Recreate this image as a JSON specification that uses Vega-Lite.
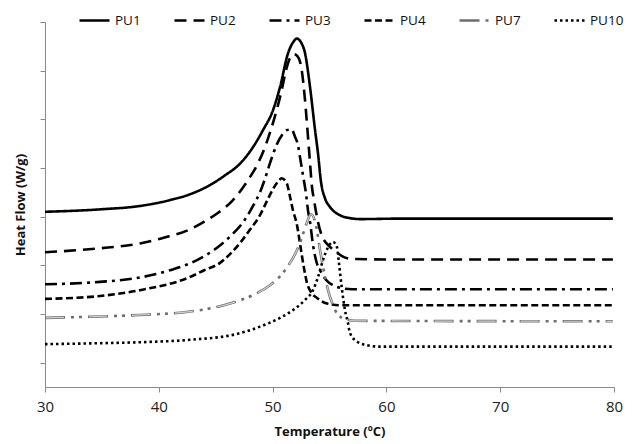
{
  "$schema": "https://vega.github.io/schema/vega-lite/v6.json",
  "width": 569,
  "height": 365,
  "autosize": {"type": "none"},
  "padding": {"left": 45, "top": 22, "right": 28, "bottom": 57},
  "config": {
    "view": {"stroke": null},
    "font": "Open Sans",
    "legend": {
      "orient": "none",
      "legendX": 33,
      "legendY": -18,
      "direction": "horizontal",
      "symbolType": "stroke",
      "symbolSize": 900,
      "symbolStrokeWidth": 2.5,
      "labelFontSize": 13.5,
      "labelOffset": 4,
      "columnPadding": 28,
      "labelColor": "#111111",
      "padding": 0,
      "title": null
    }
  },
  "data": {
    "values": [
      {"s": "PU1", "t": 30.0, "v": 4.10}, {"s": "PU1", "t": 34.83, "v": 4.15}, {"s": "PU1", "t": 38.35, "v": 4.22}, {"s": "PU1", "t": 40.98, "v": 4.34}, {"s": "PU1", "t": 42.74, "v": 4.46}, {"s": "PU1", "t": 44.5, "v": 4.65}, {"s": "PU1", "t": 45.82, "v": 4.85}, {"s": "PU1", "t": 47.14, "v": 5.09}, {"s": "PU1", "t": 48.28, "v": 5.43}, {"s": "PU1", "t": 49.16, "v": 5.78}, {"s": "PU1", "t": 50.04, "v": 6.19}, {"s": "PU1", "t": 50.65, "v": 6.66}, {"s": "PU1", "t": 51.36, "v": 7.36}, {"s": "PU1", "t": 51.79, "v": 7.58}, {"s": "PU1", "t": 52.14, "v": 7.66}, {"s": "PU1", "t": 52.5, "v": 7.58}, {"s": "PU1", "t": 52.85, "v": 7.36}, {"s": "PU1", "t": 53.29, "v": 6.66}, {"s": "PU1", "t": 53.73, "v": 5.78}, {"s": "PU1", "t": 53.99, "v": 5.30}, {"s": "PU1", "t": 54.25, "v": 4.72}, {"s": "PU1", "t": 54.6, "v": 4.38}, {"s": "PU1", "t": 55.04, "v": 4.20}, {"s": "PU1", "t": 55.92, "v": 4.03}, {"s": "PU1", "t": 56.8, "v": 3.97}, {"s": "PU1", "t": 57.68, "v": 3.95}, {"s": "PU1", "t": 61.19, "v": 3.96}, {"s": "PU1", "t": 70.0, "v": 3.96}, {"s": "PU1", "t": 79.9, "v": 3.96},

      {"s": "PU2", "t": 30.0, "v": 3.27}, {"s": "PU2", "t": 34.83, "v": 3.35}, {"s": "PU2", "t": 38.35, "v": 3.45}, {"s": "PU2", "t": 40.5, "v": 3.57}, {"s": "PU2", "t": 42.74, "v": 3.74}, {"s": "PU2", "t": 44.0, "v": 3.90}, {"s": "PU2", "t": 45.09, "v": 4.06}, {"s": "PU2", "t": 46.52, "v": 4.34}, {"s": "PU2", "t": 47.84, "v": 4.75}, {"s": "PU2", "t": 48.72, "v": 5.10}, {"s": "PU2", "t": 49.33, "v": 5.43}, {"s": "PU2", "t": 49.92, "v": 5.84}, {"s": "PU2", "t": 50.36, "v": 6.19}, {"s": "PU2", "t": 50.8, "v": 6.60}, {"s": "PU2", "t": 51.18, "v": 7.01}, {"s": "PU2", "t": 51.53, "v": 7.26}, {"s": "PU2", "t": 51.88, "v": 7.34}, {"s": "PU2", "t": 52.18, "v": 7.30}, {"s": "PU2", "t": 52.56, "v": 7.01}, {"s": "PU2", "t": 52.85, "v": 6.39}, {"s": "PU2", "t": 53.11, "v": 5.64}, {"s": "PU2", "t": 53.29, "v": 5.10}, {"s": "PU2", "t": 53.46, "v": 4.61}, {"s": "PU2", "t": 53.64, "v": 4.34}, {"s": "PU2", "t": 53.99, "v": 3.89}, {"s": "PU2", "t": 54.34, "v": 3.60}, {"s": "PU2", "t": 54.78, "v": 3.44}, {"s": "PU2", "t": 55.4, "v": 3.31}, {"s": "PU2", "t": 56.1, "v": 3.19}, {"s": "PU2", "t": 56.98, "v": 3.13}, {"s": "PU2", "t": 61.19, "v": 3.12}, {"s": "PU2", "t": 79.9, "v": 3.12},

      {"s": "PU3", "t": 30.0, "v": 2.61}, {"s": "PU3", "t": 34.83, "v": 2.66}, {"s": "PU3", "t": 38.35, "v": 2.75}, {"s": "PU3", "t": 41.0, "v": 2.90}, {"s": "PU3", "t": 42.74, "v": 3.04}, {"s": "PU3", "t": 44.0, "v": 3.19}, {"s": "PU3", "t": 45.0, "v": 3.34}, {"s": "PU3", "t": 46.26, "v": 3.59}, {"s": "PU3", "t": 47.57, "v": 3.94}, {"s": "PU3", "t": 48.28, "v": 4.22}, {"s": "PU3", "t": 48.89, "v": 4.50}, {"s": "PU3", "t": 49.33, "v": 4.78}, {"s": "PU3", "t": 49.77, "v": 5.10}, {"s": "PU3", "t": 50.36, "v": 5.48}, {"s": "PU3", "t": 50.83, "v": 5.68}, {"s": "PU3", "t": 51.27, "v": 5.78}, {"s": "PU3", "t": 51.68, "v": 5.79}, {"s": "PU3", "t": 51.97, "v": 5.64}, {"s": "PU3", "t": 52.23, "v": 5.47}, {"s": "PU3", "t": 52.41, "v": 5.22}, {"s": "PU3", "t": 52.67, "v": 4.85}, {"s": "PU3", "t": 52.93, "v": 4.48}, {"s": "PU3", "t": 53.11, "v": 4.13}, {"s": "PU3", "t": 53.29, "v": 3.89}, {"s": "PU3", "t": 53.55, "v": 3.42}, {"s": "PU3", "t": 53.81, "v": 3.11}, {"s": "PU3", "t": 54.31, "v": 2.84}, {"s": "PU3", "t": 54.78, "v": 2.68}, {"s": "PU3", "t": 55.31, "v": 2.59}, {"s": "PU3", "t": 56.1, "v": 2.53}, {"s": "PU3", "t": 56.98, "v": 2.51}, {"s": "PU3", "t": 79.9, "v": 2.51},

      {"s": "PU4", "t": 30.0, "v": 2.31}, {"s": "PU4", "t": 34.83, "v": 2.37}, {"s": "PU4", "t": 38.35, "v": 2.49}, {"s": "PU4", "t": 42.74, "v": 2.76}, {"s": "PU4", "t": 44.0, "v": 2.90}, {"s": "PU4", "t": 45.38, "v": 3.05}, {"s": "PU4", "t": 46.3, "v": 3.24}, {"s": "PU4", "t": 47.14, "v": 3.46}, {"s": "PU4", "t": 48.0, "v": 3.73}, {"s": "PU4", "t": 48.89, "v": 4.03}, {"s": "PU4", "t": 49.5, "v": 4.32}, {"s": "PU4", "t": 50.04, "v": 4.57}, {"s": "PU4", "t": 50.47, "v": 4.72}, {"s": "PU4", "t": 50.8, "v": 4.79}, {"s": "PU4", "t": 51.24, "v": 4.69}, {"s": "PU4", "t": 51.53, "v": 4.41}, {"s": "PU4", "t": 51.79, "v": 4.13}, {"s": "PU4", "t": 52.14, "v": 3.83}, {"s": "PU4", "t": 52.5, "v": 3.31}, {"s": "PU4", "t": 52.76, "v": 2.94}, {"s": "PU4", "t": 53.02, "v": 2.64}, {"s": "PU4", "t": 53.37, "v": 2.45}, {"s": "PU4", "t": 53.9, "v": 2.33}, {"s": "PU4", "t": 54.69, "v": 2.22}, {"s": "PU4", "t": 55.92, "v": 2.18}, {"s": "PU4", "t": 79.9, "v": 2.18},

      {"s": "PU7", "t": 30.0, "v": 1.92}, {"s": "PU7", "t": 34.83, "v": 1.95}, {"s": "PU7", "t": 38.35, "v": 1.98}, {"s": "PU7", "t": 42.74, "v": 2.05}, {"s": "PU7", "t": 45.38, "v": 2.16}, {"s": "PU7", "t": 46.87, "v": 2.26}, {"s": "PU7", "t": 48.28, "v": 2.39}, {"s": "PU7", "t": 49.77, "v": 2.59}, {"s": "PU7", "t": 51.09, "v": 2.90}, {"s": "PU7", "t": 52.41, "v": 3.46}, {"s": "PU7", "t": 53.0, "v": 3.87}, {"s": "PU7", "t": 53.37, "v": 4.05}, {"s": "PU7", "t": 53.81, "v": 3.83}, {"s": "PU7", "t": 54.17, "v": 3.31}, {"s": "PU7", "t": 54.52, "v": 2.86}, {"s": "PU7", "t": 54.87, "v": 2.49}, {"s": "PU7", "t": 55.31, "v": 2.18}, {"s": "PU7", "t": 55.75, "v": 1.98}, {"s": "PU7", "t": 56.36, "v": 1.90}, {"s": "PU7", "t": 57.24, "v": 1.86}, {"s": "PU7", "t": 79.9, "v": 1.85},

      {"s": "PU10", "t": 30.0, "v": 1.38}, {"s": "PU10", "t": 34.83, "v": 1.40}, {"s": "PU10", "t": 38.35, "v": 1.42}, {"s": "PU10", "t": 42.74, "v": 1.47}, {"s": "PU10", "t": 46.87, "v": 1.59}, {"s": "PU10", "t": 48.89, "v": 1.74}, {"s": "PU10", "t": 50.65, "v": 1.92}, {"s": "PU10", "t": 51.79, "v": 2.08}, {"s": "PU10", "t": 52.85, "v": 2.29}, {"s": "PU10", "t": 53.55, "v": 2.49}, {"s": "PU10", "t": 53.99, "v": 2.76}, {"s": "PU10", "t": 54.43, "v": 3.11}, {"s": "PU10", "t": 54.87, "v": 3.37}, {"s": "PU10", "t": 55.31, "v": 3.48}, {"s": "PU10", "t": 55.66, "v": 3.37}, {"s": "PU10", "t": 55.83, "v": 3.05}, {"s": "PU10", "t": 56.07, "v": 2.55}, {"s": "PU10", "t": 56.36, "v": 2.08}, {"s": "PU10", "t": 56.63, "v": 1.81}, {"s": "PU10", "t": 56.8, "v": 1.61}, {"s": "PU10", "t": 57.5, "v": 1.42}, {"s": "PU10", "t": 58.27, "v": 1.36}, {"s": "PU10", "t": 59.44, "v": 1.33}, {"s": "PU10", "t": 79.9, "v": 1.33}
    ]
  },
  "encoding": {
    "x": {
      "field": "t",
      "type": "quantitative",
      "scale": {"domain": [30, 80], "nice": false, "zero": false},
      "axis": {
        "title": "Temperature (ºC)",
        "values": [30, 40, 50, 60, 70, 80],
        "grid": false,
        "domainColor": "#8a8a8a",
        "tickColor": "#8a8a8a",
        "tickSize": 5,
        "labelFontSize": 15,
        "labelColor": "#222222",
        "labelPadding": 7,
        "labelFlush": false,
        "titleFontSize": 13,
        "titleFontWeight": "bold",
        "titleColor": "#111111",
        "titlePadding": 11
      }
    },
    "y": {
      "field": "v",
      "type": "quantitative",
      "scale": {"domain": [0.5, 8], "nice": false, "zero": false},
      "axis": {
        "title": "Heat Flow (W/g)",
        "values": [1, 2, 3, 4, 5, 6, 7, 8],
        "labels": false,
        "grid": false,
        "domainColor": "#8a8a8a",
        "tickColor": "#8a8a8a",
        "tickSize": 5,
        "titleFontSize": 13,
        "titleFontWeight": "bold",
        "titleColor": "#111111",
        "titlePadding": 12
      }
    }
  },
  "layer": [
    {
      "mark": {"type": "line", "interpolate": "monotone", "strokeWidth": 2.6},
      "encoding": {
        "color": {
          "field": "s",
          "type": "nominal",
          "scale": {"domain": ["PU1", "PU2", "PU3", "PU4", "PU7", "PU10"], "range": ["#000000", "#000000", "#000000", "#000000", "#6e6e6e", "#000000"]},
          "legend": {"title": null}
        },
        "strokeDash": {
          "field": "s",
          "type": "nominal",
          "scale": {"domain": ["PU1", "PU2", "PU3", "PU4", "PU7", "PU10"], "range": [[1, 0], [12, 7], [12, 5, 3, 5], [7, 3.5], [20, 6, 3, 5, 3, 6], [2.5, 3]]},
          "legend": {"title": null}
        }
      }
    },
    {
      "transform": [{"filter": "datum.s === 'PU7'"}],
      "mark": {"type": "line", "interpolate": "monotone", "strokeWidth": 1.2, "color": "#d0d0d0", "strokeDash": [18, 25], "strokeDashOffset": -1},
      "encoding": {}
    }
  ]
}
